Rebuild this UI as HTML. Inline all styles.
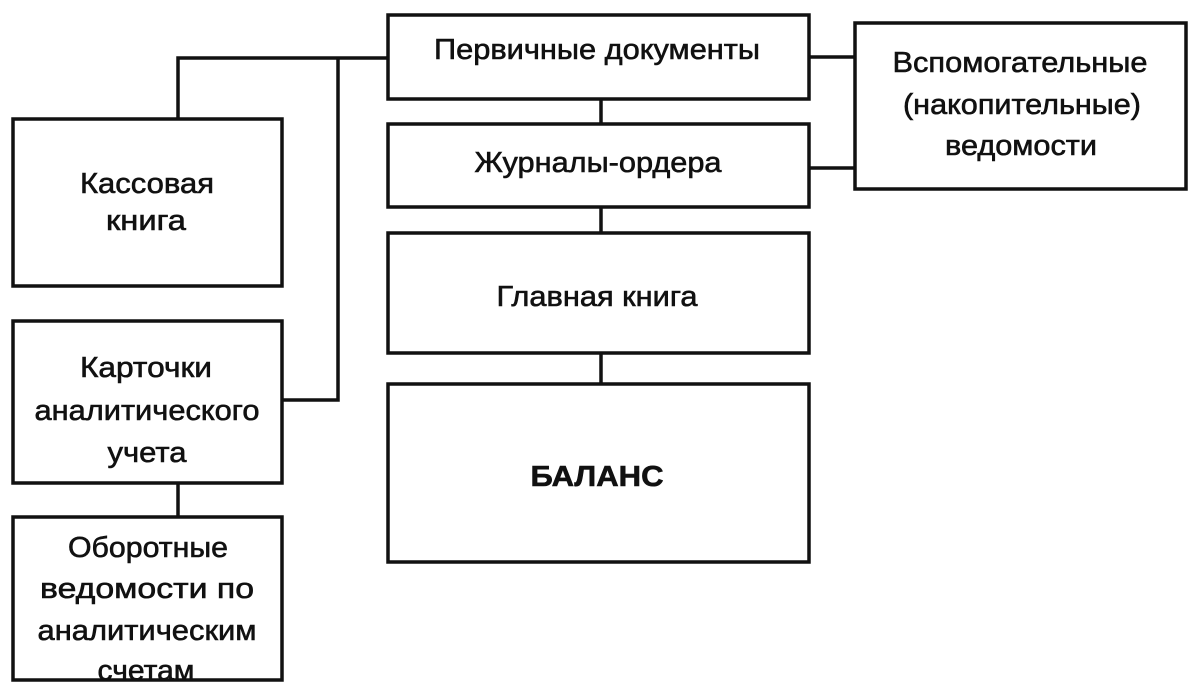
<!DOCTYPE html>
<html><head><meta charset="utf-8"><style>
html,body{margin:0;padding:0;background:#fff;}
svg{display:block;}
text{font-family:"Liberation Sans",Arial,sans-serif;font-size:29px;fill:#111;text-anchor:middle;stroke:#111;stroke-width:0.6px;}
</style></head><body>
<svg width="1204" height="694" viewBox="0 0 1204 694" xmlns="http://www.w3.org/2000/svg">
<g fill="none" stroke="#111" stroke-width="3.5">
<rect x="388" y="15" width="421" height="84"/>
<rect x="388" y="124" width="421" height="83"/>
<rect x="388" y="233" width="421" height="120"/>
<rect x="388" y="384" width="421" height="178"/>
<rect x="855" y="23" width="331" height="166"/>
<rect x="13" y="119" width="269" height="167"/>
<rect x="13" y="321" width="269" height="162"/>
<rect x="13" y="517" width="269" height="163"/>
<polyline points="388,58 178,58 178,119"/>
<polyline points="338,58 338,400 282,400"/>
<line x1="809" y1="57" x2="855" y2="57"/>
<line x1="809" y1="168" x2="855" y2="168"/>
<line x1="601" y1="99" x2="601" y2="124"/>
<line x1="601" y1="207" x2="601" y2="233"/>
<line x1="601" y1="353" x2="601" y2="384"/>
<line x1="178" y1="483" x2="178" y2="517"/>
</g>
<text x="597" y="59" textLength="326" lengthAdjust="spacingAndGlyphs">Первичные документы</text>
<text x="598" y="172" textLength="247" lengthAdjust="spacingAndGlyphs">Журналы-ордера</text>
<text x="597" y="306" textLength="201" lengthAdjust="spacingAndGlyphs">Главная книга</text>
<text x="597" y="486" textLength="133" lengthAdjust="spacingAndGlyphs" style="font-weight:bold">БАЛАНС</text>
<text x="1020" y="72" textLength="255" lengthAdjust="spacingAndGlyphs">Вспомогательные</text>
<text x="1022" y="114" textLength="238" lengthAdjust="spacingAndGlyphs">(накопительные)</text>
<text x="1021" y="155" textLength="152" lengthAdjust="spacingAndGlyphs">ведомости</text>
<text x="147" y="193" textLength="134" lengthAdjust="spacingAndGlyphs">Кассовая</text>
<text x="146" y="230" textLength="80" lengthAdjust="spacingAndGlyphs">книга</text>
<text x="146" y="377" textLength="132" lengthAdjust="spacingAndGlyphs">Карточки</text>
<text x="147" y="420" textLength="225" lengthAdjust="spacingAndGlyphs">аналитического</text>
<text x="147" y="462" textLength="79" lengthAdjust="spacingAndGlyphs">учета</text>
<text x="148" y="557" textLength="160" lengthAdjust="spacingAndGlyphs">Оборотные</text>
<text x="147" y="598" textLength="214" lengthAdjust="spacingAndGlyphs">ведомости по</text>
<text x="147" y="640" textLength="219" lengthAdjust="spacingAndGlyphs">аналитическим</text>
<text x="146" y="680" textLength="97" lengthAdjust="spacingAndGlyphs">счетам</text>
</svg>
</body></html>
